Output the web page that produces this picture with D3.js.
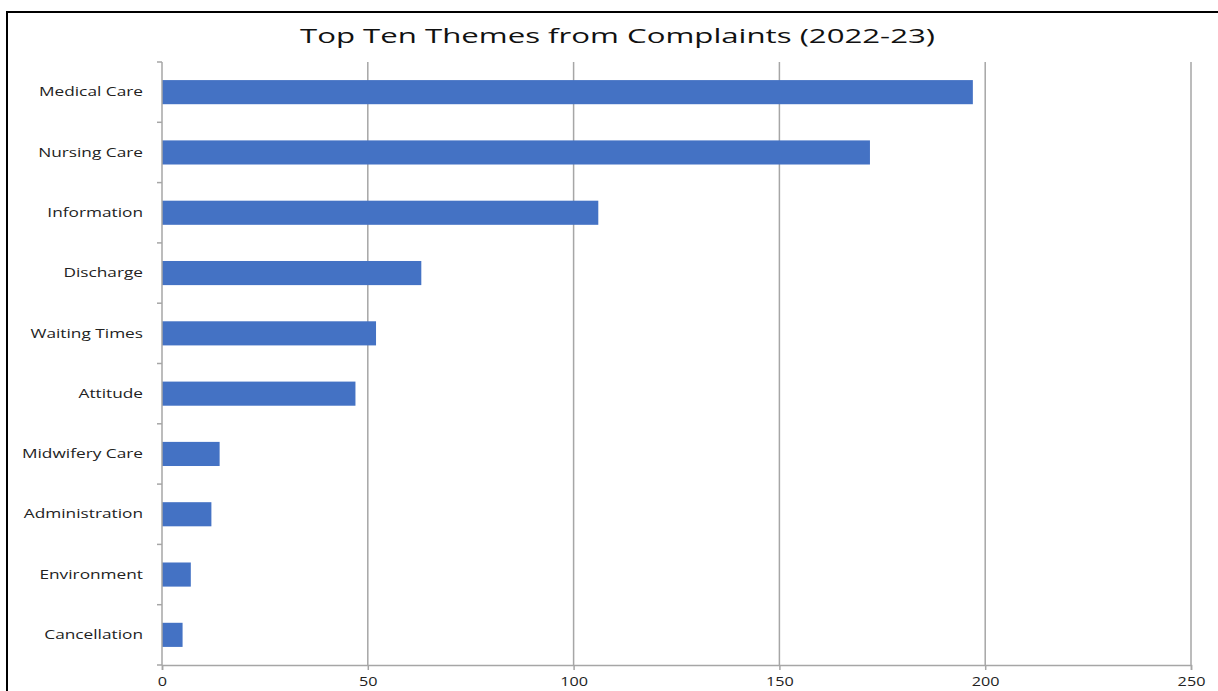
<!DOCTYPE html>
<html><head><meta charset="utf-8">
<script src="https://cdn.jsdelivr.net/npm/d3@7"></script>
<style>body{margin:0;background:#fff}svg{display:block}</style>
</head><body>
<script>
const categories = ["Medical Care","Nursing Care","Information","Discharge","Waiting Times","Attitude","Midwifery Care","Administration","Environment","Cancellation"];
const values = [197,172,106,63,52,47,14,12,7,5];
const xTicks = [0,50,100,150,200,250];
const title = "Top Ten Themes from Complaints (2022-23)";

(function(){
const W = 1218, H = 691;
const FONT = "Open Sans";
const svg = d3.select("body").append("svg").attr("width",W).attr("height",H);
svg.append("rect").attr("x",7).attr("y",12).attr("width",1230).attr("height",700)
  .attr("fill","none").attr("stroke","#000").attr("stroke-width",2);

const pL=162, pR=1191, pT=62, pB=665;
const x = d3.scaleLinear().domain([0,250]).range([pL,pR]);
const y = d3.scaleBand().domain(categories).range([pT,pB]).paddingInner(0.6).paddingOuter(0.3);

function stretch(sel, k){
  sel.each(function(){ const w=this.getComputedTextLength(); d3.select(this).attr("textLength",w*k).attr("lengthAdjust","spacingAndGlyphs"); });
}

svg.append("g").selectAll("line").data(xTicks.slice(1)).join("line")
  .attr("x1",d=>x(d)).attr("x2",d=>x(d)).attr("y1",pT).attr("y2",pB)
  .attr("stroke","#a6a6a6").attr("stroke-width",1.5);

svg.append("g").selectAll("rect").data(values).join("rect")
  .attr("x",x(0)).attr("y",(d,i)=>y(categories[i]))
  .attr("width",d=>x(d)-x(0)).attr("height",y.bandwidth())
  .attr("fill","#4472C4");

const xa = svg.append("g").attr("transform",`translate(0,${pB})`)
  .call(d3.axisBottom(x).tickValues(xTicks).tickSize(5).tickPadding(7));
xa.select(".domain").attr("stroke","#a6a6a6").attr("stroke-width",1.5);
xa.selectAll(".tick line").attr("stroke","#a6a6a6").attr("stroke-width",1.5);
const xt = xa.selectAll("text").attr("font-family",FONT).attr("font-size",12).attr("fill","#222");
stretch(xt, 1.35);

const ya = svg.append("g").attr("transform",`translate(${pL},0)`);
ya.append("line").attr("x1",0).attr("x2",0).attr("y1",pT).attr("y2",pB)
  .attr("stroke","#a6a6a6").attr("stroke-width",1.5);
const step = (pB-pT)/categories.length;
ya.selectAll("line.t").data(d3.range(categories.length+1)).join("line").attr("class","t")
  .attr("x1",-5).attr("x2",0).attr("y1",i=>pT+i*step).attr("y2",i=>pT+i*step)
  .attr("stroke","#a6a6a6").attr("stroke-width",1.5);
const yl = ya.selectAll("text").data(categories).join("text")
  .attr("x",-19).attr("y",d=>y(d)+y.bandwidth()/2).attr("dy","0.35em")
  .attr("text-anchor","end").attr("font-family",FONT).attr("font-size",12)
  .attr("fill","#222").text(d=>d);
const mc = yl.filter(d=>d==="Medical Care").node().getComputedTextLength();
stretch(yl, 104/mc);

const t = svg.append("text").attr("x",617.5).attr("y",43).attr("text-anchor","middle")
  .attr("font-family",FONT).attr("font-size",20).attr("fill","#111").text(title);
stretch(t, 635/t.node().getComputedTextLength());
})();
</script>
</body></html>
